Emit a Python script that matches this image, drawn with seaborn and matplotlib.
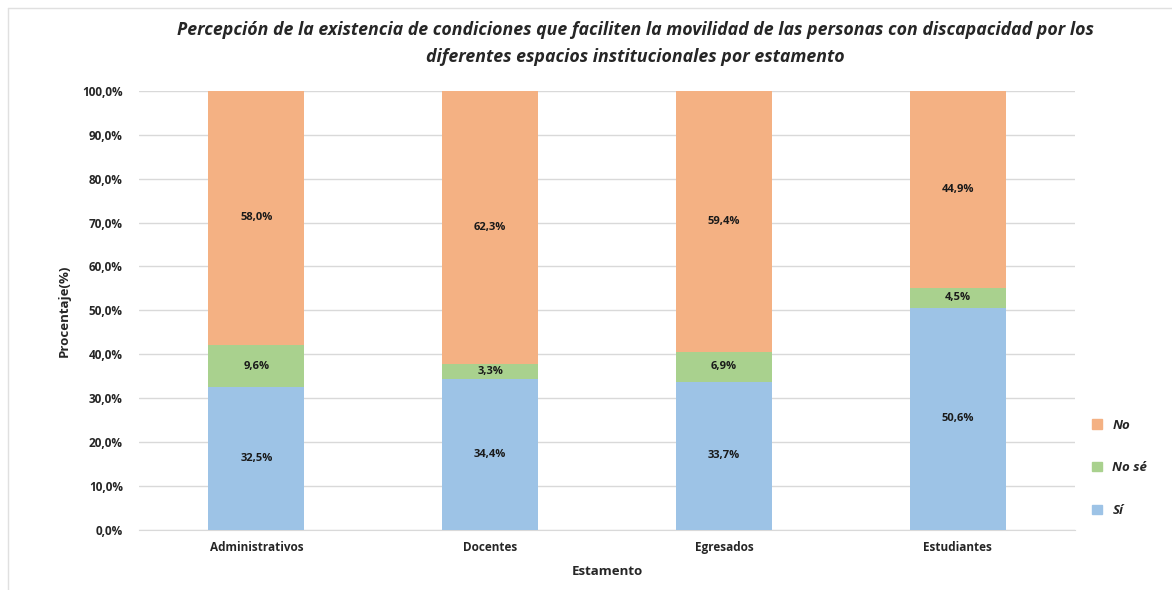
import numpy as np
import pandas as pd
import seaborn as sns
import matplotlib.pyplot as plt
from matplotlib.patches import Patch
from matplotlib.ticker import FuncFormatter

estamentos = ['Administrativos', 'Docentes', 'Egresados', 'Estudiantes']
si = [32.5, 34.4, 33.7, 50.6]
no_se = [9.6, 3.3, 6.9, 4.5]
no = [58.0, 62.3, 59.4, 44.9]

colores = {'Sí': '#9DC3E6', 'No sé': '#A9D18E', 'No': '#F4B183'}

sns.set_style('white')
plt.rcParams['font.family'] = ['Open Sans', 'DejaVu Sans']

fig = plt.figure(figsize=(11.72, 5.9), dpi=100)
ax = fig.add_axes([0.119, 0.102, 0.798, 0.744])

df = pd.DataFrame({'Estamento': estamentos, 'Sí': si, 'No sé': no_se, 'No': no})
base = np.zeros(len(estamentos))
for serie in ['Sí', 'No sé', 'No']:
    sns.barplot(data=df, x='Estamento', y=serie, bottom=base, color=colores[serie],
                width=0.41, ax=ax, saturation=1, zorder=3, linewidth=0)
    cont = ax.containers[-1]
    ax.bar_label(cont, labels=[f'{v:.1f}%'.replace('.', ',') for v in df[serie]],
                 label_type='center', fontsize=8, fontweight='bold', color='#1a1a1a')
    base = base + df[serie].values

ax.set_ylim(0, 100)
ax.set_xlim(-0.5, 3.5)
ax.set_yticks(np.arange(0, 101, 10))
ax.yaxis.set_major_formatter(FuncFormatter(lambda v, p: f'{v:.1f}%'.replace('.', ',')))
ax.grid(axis='y', color='#d9d9d9', linewidth=1, zorder=0)
for s in ['top', 'right', 'left']:
    ax.spines[s].set_visible(False)
ax.spines['bottom'].set_color('#d9d9d9')
ax.tick_params(axis='both', length=0, labelsize=8.5, colors='#262626')
for t in ax.get_xticklabels() + ax.get_yticklabels():
    t.set_fontweight('bold')
ax.tick_params(axis='y', pad=12)
ax.tick_params(axis='x', pad=8)

ax.set_xlabel('Estamento', fontsize=9.5, fontweight='bold', labelpad=8)
ax.set_ylabel('Procentaje(%)', fontsize=9.5, fontweight='bold', labelpad=8)

fig.suptitle('Percepción de la existencia de condiciones que faciliten la movilidad de las personas con discapacidad por los\n'
             'diferentes espacios institucionales por estamento',
             x=0.542, y=0.965, fontsize=12.8, fontweight='bold', style='italic', linespacing=1.65)

handles = [Patch(color=colores[k]) for k in ['No', 'No sé', 'Sí']]
fig.legend(handles, ['No', 'No sé', 'Sí'], loc='center left', bbox_to_anchor=(0.922, 0.207),
           frameon=False, handlelength=0.7, handleheight=0.7, labelspacing=2.25,
           prop={'weight': 'bold', 'style': 'italic', 'size': 9.5})

# marco tenue de la imagen original
fig.add_artist(plt.Line2D([0.007, 0.007], [0, 0.986], color='#e0e0e0', linewidth=1))
fig.add_artist(plt.Line2D([0.007, 1], [0.986, 0.986], color='#e0e0e0', linewidth=1))

fig.savefig('out.png', dpi=100)
